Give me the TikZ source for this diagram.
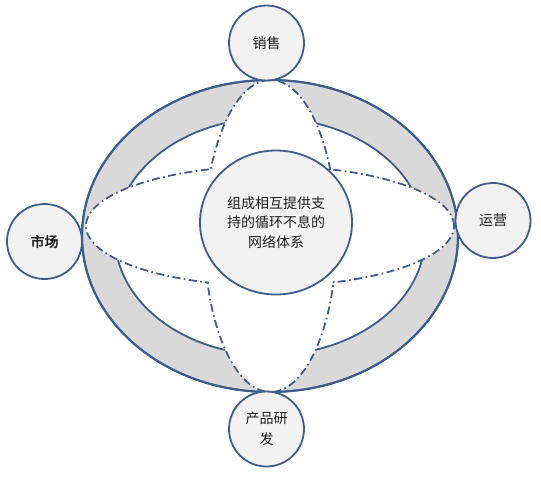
\documentclass[tikz,border=0pt]{standalone}
\usepackage{fontspec}
\setmainfont{Noto Sans CJK SC}
\newfontfamily\cjkbold[FakeBold=2.5]{Noto Sans CJK SC}
\usetikzlibrary{shapes.geometric}
\definecolor{edge}{HTML}{3B5E8C}
\definecolor{ring}{HTML}{D9D9D9}
\definecolor{disc}{HTML}{F2F2F2}
\begin{document}
\begin{tikzpicture}[x=1pt,y=-1pt,line join=round,
  lensline/.style={draw=edge,line width=1.8pt,dash pattern=on 8pt off 3.5pt on 1.6pt off 3.5pt},
  sat/.style={circle,fill=disc,draw=edge,line width=1.8pt,minimum size=75pt,inner sep=0pt,align=center,
    text=black!88,font=\fontsize{14}{21}\selectfont},
  core/.style={ellipse,fill=disc,draw=edge,line width=1.8pt,minimum width=152pt,minimum height=144pt,
    inner sep=0pt,align=center,text=black!88,font=\fontsize{14}{19.5}\selectfont}]
\useasboundingbox (0,0) rectangle (541,479);
% ring
\path[fill=ring,draw=edge,line width=2pt] (270,236) ellipse [x radius=188pt, y radius=156pt];
\path[fill=white,draw=edge,line width=1.8pt] (270,236.5) ellipse [x radius=155pt, y radius=118.5pt];
% lenses
\begin{scope}
  \clip (270,236) ellipse [x radius=187pt, y radius=155pt];
  \fill[white] (270.5,236) ellipse [x radius=66pt, y radius=156pt];
  \fill[white] (270,226) ellipse [x radius=184pt, y radius=60pt];
  \path[lensline] (270.5,236) ellipse [x radius=66pt, y radius=156pt];
  \path[lensline] (270,226) ellipse [x radius=184pt, y radius=60pt];
  \fill[white] (270.5,236) ellipse [x radius=64.5pt, y radius=154.5pt];
  \fill[white] (270,226) ellipse [x radius=182.5pt, y radius=58.5pt];
\end{scope}
\draw[edge,line width=2pt] (270,236) ellipse [x radius=188pt, y radius=156pt];
% circles
\node[core] (center) at (276,222.5) {组成相互提供支\\持的循环不息的\\网络体系};
\node[sat] (sales) at (266.5,43) {销售};
\node[sat] (market) at (44.5,241.5) {\cjkbold 市场};
\node[sat] (ops) at (493,220.5) {运营};
\node[sat] (rd) at (266.5,429) {产品研\\发};
\end{tikzpicture}
\end{document}
